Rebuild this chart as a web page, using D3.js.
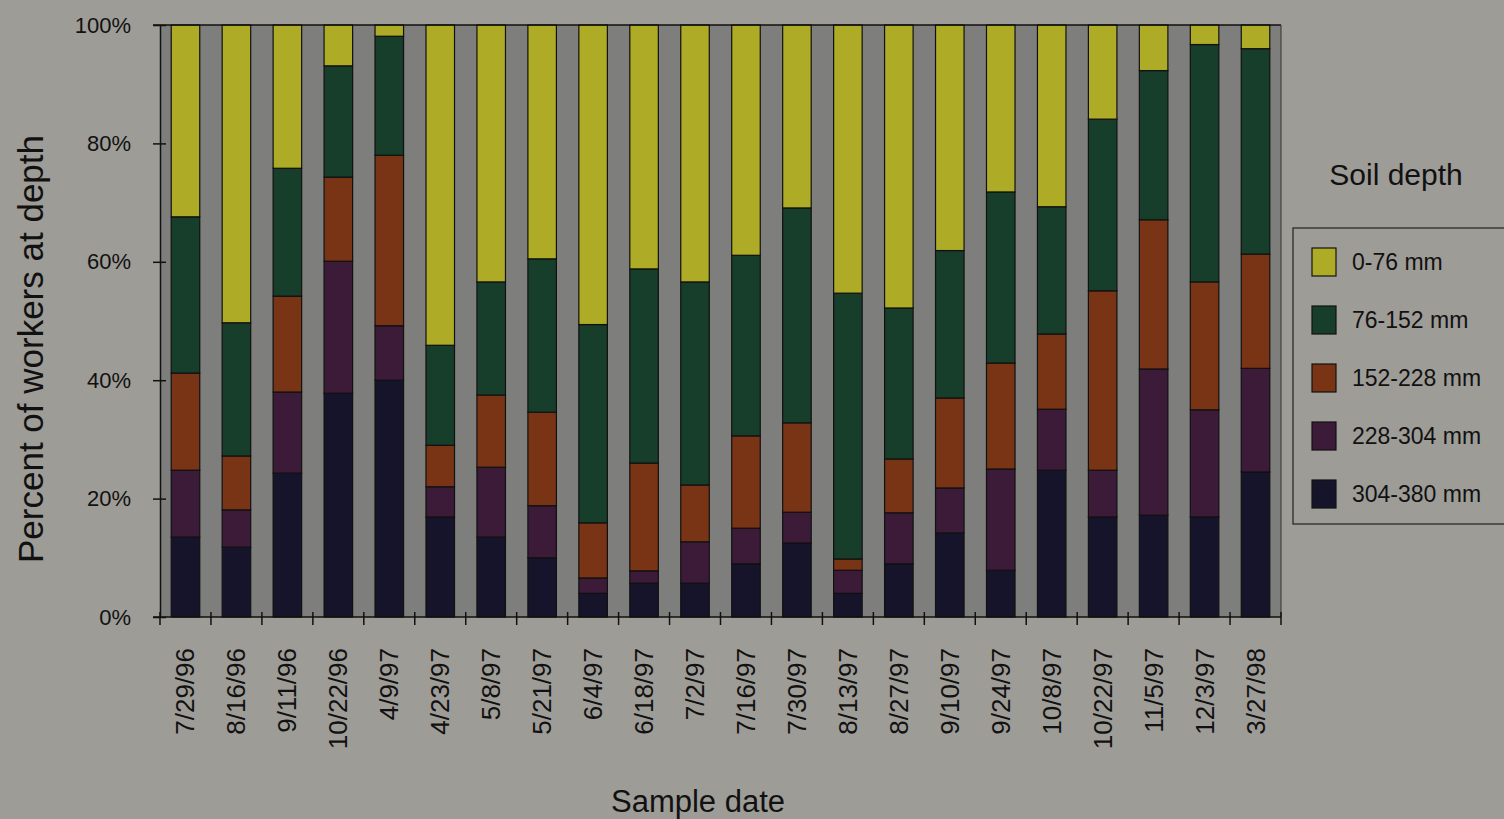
<!DOCTYPE html>
<html>
<head>
<meta charset="utf-8">
<script src="https://cdn.jsdelivr.net/npm/d3@7"></script>
<style>
  body { margin: 0; background: #9e9c97; }
  text { font-family: "Liberation Sans", Arial, sans-serif; fill: #111; }
</style>
</head>
<body>
<div id="chart"></div>
<script>
// sample dates (x categories)
const dates = ["7/29/96", "8/16/96", "9/11/96", "10/22/96", "4/9/97", "4/23/97", "5/8/97",
  "5/21/97", "6/4/97", "6/18/97", "7/2/97", "7/16/97", "7/30/97", "8/13/97", "8/27/97",
  "9/10/97", "9/24/97", "10/8/97", "10/22/97", "11/5/97", "12/3/97", "3/27/98"];

// percent of workers in each depth layer
const d304_380 = [13.5, 11.8, 24.3, 37.8, 40.0, 16.9, 13.5, 10.0, 4.0, 5.7, 5.7, 9.0, 12.5, 4.0, 9.0, 14.2, 7.9, 24.8, 16.9, 17.2, 16.9, 24.5];
const d228_304 = [11.3, 6.3, 13.7, 22.3, 9.2, 5.1, 11.8, 8.8, 2.6, 2.1, 7.0, 6.0, 5.2, 3.9, 8.6, 7.6, 17.1, 10.3, 7.9, 24.7, 18.1, 17.5];
const d152_228 = [16.4, 9.1, 16.2, 14.2, 28.8, 7.0, 12.2, 15.8, 9.3, 18.2, 9.6, 15.6, 15.1, 1.9, 9.1, 15.2, 17.9, 12.7, 30.3, 25.2, 21.6, 19.3];
const d76_152 = [26.4, 22.5, 21.6, 18.8, 20.1, 16.9, 19.1, 25.9, 33.5, 32.8, 34.3, 30.5, 36.3, 44.9, 25.5, 24.9, 28.9, 21.5, 29.0, 25.2, 40.1, 34.7];
const d0_76 = [32.4, 50.3, 24.2, 6.9, 1.9, 54.1, 43.4, 39.5, 50.6, 41.2, 43.4, 38.9, 30.9, 45.3, 47.8, 38.1, 28.2, 30.7, 15.9, 7.7, 3.3, 4.0];

const layers = ["304-380 mm", "228-304 mm", "152-228 mm", "76-152 mm", "0-76 mm"];
const yTicks = [0, 20, 40, 60, 80, 100];

const colors = {
  "0-76 mm": "#aeab26",
  "76-152 mm": "#173d2b",
  "152-228 mm": "#783414",
  "228-304 mm": "#3b1b38",
  "304-380 mm": "#16142a"
};

const rows = dates.map((d, i) => ({
  date: d,
  "304-380 mm": d304_380[i],
  "228-304 mm": d228_304[i],
  "152-228 mm": d152_228[i],
  "76-152 mm": d76_152[i],
  "0-76 mm": d0_76[i]
}));

const width = 1504, height = 819;
const margin = { left: 160, top: 25, right: 223, bottom: 202 };
const plotW = width - margin.left - margin.right;
const plotH = height - margin.top - margin.bottom;

const svg = d3.select("#chart").append("svg")
  .attr("width", width)
  .attr("height", height);

const g = svg.append("g")
  .attr("transform", "translate(" + [margin.left, margin.top] + ")");

const x = d3.scaleBand().domain(dates).range([0, plotW]).paddingInner(0.44).paddingOuter(0.22);
const y = d3.scaleLinear().domain([0, 100]).range([plotH, 0]);

// plot area
g.append("rect")
  .attr("width", plotW)
  .attr("height", plotH)
  .attr("fill", "#7e7e7c");

const stacked = d3.stack().keys(layers)(rows);

g.selectAll("g.layer")
  .data(stacked)
  .enter().append("g")
  .attr("class", "layer")
  .attr("fill", d => colors[d.key])
  .selectAll("rect")
  .data(d => d)
  .enter().append("rect")
  .attr("x", d => x(d.data.date))
  .attr("y", d => y(d[1]))
  .attr("width", x.bandwidth())
  .attr("height", d => y(d[0]) - y(d[1]))
  .attr("stroke", "#111")
  .attr("stroke-width", 1.2);

// frame top / right
g.append("line").attr("x1", -7).attr("x2", plotW).attr("y1", 0).attr("y2", 0)
  .attr("stroke", "#111").attr("stroke-width", 1.5);
g.append("line").attr("x1", plotW).attr("x2", plotW).attr("y1", 0).attr("y2", plotH)
  .attr("stroke", "#333").attr("stroke-width", 1);

// y axis
const yAxis = d3.axisLeft(y).tickValues(yTicks).tickFormat(d => d + "%").tickSizeInner(7).tickSizeOuter(0).tickPadding(22);
const yG = g.append("g").call(yAxis);
yG.select(".domain").attr("stroke", "#111").attr("stroke-width", 1.5);
yG.selectAll(".tick line").attr("stroke", "#111").attr("stroke-width", 1.5).attr("x2", -7).attr("x1", 6);
yG.selectAll("text").attr("font-size", 22).attr("fill", "#111");

// x axis: ticks at category boundaries
const xG = g.append("g").attr("transform", "translate(0," + plotH + ")");
xG.append("line").attr("x1", -7).attr("x2", plotW).attr("stroke", "#111").attr("stroke-width", 1.5);
const boundScale = d3.scaleLinear().domain([0, dates.length]).range([0, plotW]);
xG.selectAll("line.tk")
  .data(d3.range(dates.length + 1))
  .enter().append("line")
  .attr("class", "tk")
  .attr("x1", i => boundScale(i))
  .attr("x2", i => boundScale(i))
  .attr("y1", -5)
  .attr("y2", 8)
  .attr("stroke", "#111")
  .attr("stroke-width", 1.5);

xG.selectAll("text.lbl")
  .data(dates)
  .enter().append("text")
  .attr("class", "lbl")
  .attr("transform", d => "translate(" + (x(d) + x.bandwidth() / 2 + 9) + ",31) rotate(-90)")
  .attr("text-anchor", "end")
  .attr("font-size", 26)
  .text(d => d);

// axis titles
svg.append("text")
  .attr("transform", "translate(43,349) rotate(-90)")
  .attr("text-anchor", "middle")
  .attr("font-size", 35)
  .text("Percent of workers at depth");

svg.append("text")
  .attr("x", 698)
  .attr("y", 812)
  .attr("text-anchor", "middle")
  .attr("font-size", 31)
  .text("Sample date");

// legend
svg.append("text")
  .attr("x", 1396)
  .attr("y", 185)
  .attr("text-anchor", "middle")
  .attr("font-size", 30)
  .text("Soil depth");

const legend = svg.append("g").attr("transform", "translate(1293,228)");
legend.append("rect")
  .attr("width", 225)
  .attr("height", 296)
  .attr("fill", "none")
  .attr("stroke", "#222")
  .attr("stroke-width", 1.2);

const legendOrder = layers.slice().reverse();
const item = legend.selectAll("g.item")
  .data(legendOrder)
  .enter().append("g")
  .attr("class", "item")
  .attr("transform", (d, i) => "translate(19," + (20 + i * 58) + ")");
item.append("rect")
  .attr("width", 24)
  .attr("height", 28)
  .attr("fill", d => colors[d])
  .attr("stroke", "#111")
  .attr("stroke-width", 1.2);
item.append("text")
  .attr("x", 40)
  .attr("y", 22)
  .attr("font-size", 23)
  .text(d => d);
</script>
</body>
</html>
